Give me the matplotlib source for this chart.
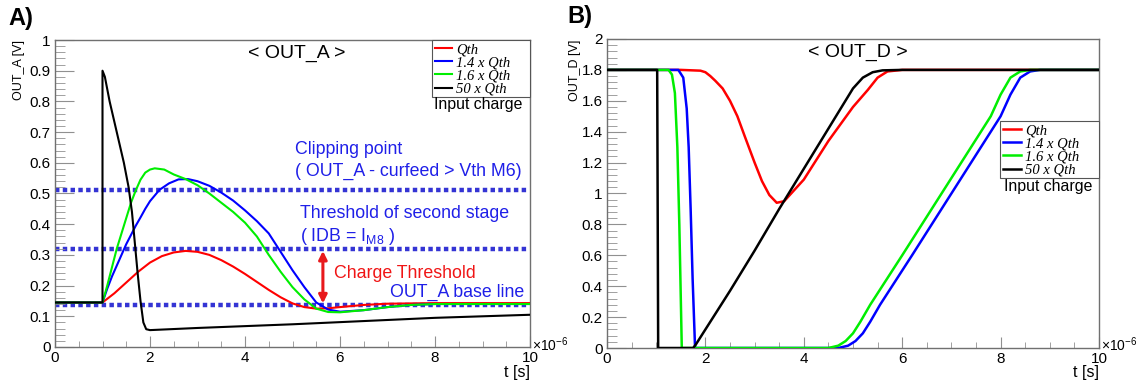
import numpy as np
import matplotlib
matplotlib.use("Agg")
import matplotlib.pyplot as plt
from matplotlib.font_manager import FontProperties
from matplotlib.patches import Rectangle
from matplotlib.ticker import MultipleLocator, FuncFormatter

plt.rcParams['font.family'] = ['Liberation Sans', 'DejaVu Sans']
plt.rcParams['mathtext.default'] = 'regular'

W, H = 1140, 382

labels = ["Qth", "1.4 x Qth", "1.6 x Qth", "50 x Qth"]
colors = ["#ff0000", "#0000ff", "#00ee00", "#000000"]

# ---- panel A: OUT_A [V] vs t [us]
a_red_t = [0, 1.0, 1.25, 1.5, 1.75, 2.0, 2.25, 2.5, 2.75, 3.0, 3.25, 3.5, 3.75, 4.0, 4.25,
           4.5, 4.75, 5.0, 5.25, 5.5, 5.75, 6.0, 6.5, 7.0, 8.0, 10]
a_red_v = [0.145, 0.145, 0.175, 0.21, 0.245, 0.275, 0.296, 0.308, 0.313, 0.31, 0.3, 0.283,
           0.262, 0.238, 0.212, 0.186, 0.162, 0.142, 0.13, 0.125, 0.126, 0.13, 0.137, 0.141,
           0.143, 0.143]

a_blue_t = [0, 1.0, 1.1, 1.2, 1.3, 1.4, 1.5, 1.6, 1.7, 1.8, 1.9, 2.0, 2.2, 2.4, 2.6, 2.8,
            3.0, 3.25, 3.5, 3.75, 4.0, 4.25, 4.5, 4.75, 5.0, 5.25, 5.5, 5.75, 6.0, 6.5, 7.0,
            7.5, 8.0, 10]
a_blue_v = [0.145, 0.145, 0.19, 0.23, 0.265, 0.3, 0.335, 0.365, 0.395, 0.422, 0.45, 0.475,
            0.512, 0.533, 0.546, 0.547, 0.54, 0.525, 0.503, 0.477, 0.445, 0.41, 0.37, 0.31,
            0.25, 0.195, 0.145, 0.122, 0.115, 0.12, 0.13, 0.137, 0.14, 0.14]

a_green_t = [0, 1.0, 1.1, 1.2, 1.3, 1.4, 1.5, 1.6, 1.7, 1.8, 1.9, 2.0, 2.1, 2.3, 2.5, 2.75,
             3.0, 3.25, 3.5, 3.75, 4.0, 4.25, 4.5, 4.75, 5.0, 5.25, 5.5, 5.75, 6.0, 6.5,
             7.0, 7.5, 8.0, 10]
a_green_v = [0.145, 0.145, 0.2, 0.26, 0.32, 0.37, 0.42, 0.47, 0.51, 0.545, 0.568, 0.578,
             0.582, 0.578, 0.562, 0.547, 0.527, 0.5, 0.47, 0.44, 0.405, 0.36, 0.3, 0.245,
             0.195, 0.155, 0.125, 0.114, 0.113, 0.12, 0.13, 0.137, 0.14, 0.14]

a_black_t = [0, 1.0, 1.0, 1.05, 1.15, 1.3, 1.45, 1.55, 1.62, 1.68, 1.74, 1.8, 1.86, 1.92,
             2.0, 3, 4, 5, 6, 7, 8, 9, 10]
a_black_v = [0.145, 0.145, 0.9, 0.88, 0.8, 0.7, 0.6, 0.52, 0.44, 0.34, 0.24, 0.15, 0.08,
             0.058, 0.055, 0.062, 0.068, 0.074, 0.081, 0.088, 0.095, 0.1, 0.105]

a_levels = [0.513, 0.318, 0.137]

# ---- panel B: OUT_D [V] vs t [us]
b_red_t = [0, 1.5, 1.9, 2.0, 2.1, 2.2, 2.35, 2.5, 2.65, 2.8, 3.0, 3.15, 3.3, 3.45, 3.6,
           3.8, 4.0, 4.5, 5.0, 5.3, 5.5, 5.7, 6.0, 10]
b_red_v = [1.8, 1.8, 1.795, 1.785, 1.76, 1.73, 1.68, 1.6, 1.5, 1.37, 1.2, 1.08, 0.99, 0.94,
           0.95, 1.02, 1.09, 1.34, 1.56, 1.67, 1.75, 1.79, 1.8, 1.8]

b_blue_t = [0, 1.45, 1.55, 1.62, 1.66, 1.7, 1.74, 1.79, 4.7, 4.9, 5.05, 5.2, 5.35, 5.55,
            6.2, 7.2, 8.0, 8.2, 8.4, 8.6, 8.8, 10]
b_blue_v = [1.8, 1.8, 1.75, 1.55, 1.3, 0.9, 0.45, 0.0, 0.0, 0.015, 0.045, 0.095, 0.17, 0.28,
            0.6, 1.1, 1.5, 1.64, 1.75, 1.79, 1.8, 1.8]

b_green_t = [0, 1.25, 1.32, 1.38, 1.43, 1.47, 1.52, 4.5, 4.7, 4.85, 5.0, 5.15, 5.35, 6.0,
             7.0, 7.8, 8.0, 8.2, 8.4, 8.6, 10]
b_green_v = [1.8, 1.8, 1.77, 1.65, 1.3, 0.8, 0.0, 0.0, 0.015, 0.045, 0.095, 0.17, 0.28, 0.6,
             1.1, 1.5, 1.64, 1.75, 1.79, 1.8, 1.8]

b_black_t = [0, 1.02, 1.04, 1.75, 1.8, 2.5, 3.0, 3.5, 4.0, 4.5, 5.0, 5.2, 5.4, 5.6, 6.0, 10]
b_black_v = [1.8, 1.8, 0.0, 0.0, 0.02, 0.37, 0.63, 0.9, 1.16, 1.42, 1.68, 1.75, 1.785,
             1.797, 1.8, 1.8]


def style_axes(ax, ymax, ymajor, yminor):
    ax.set_xlim(0, 10)
    ax.set_ylim(0, ymax)
    for s in ax.spines.values():
        s.set_color("#707070")
        s.set_linewidth(1.0)
    ax.xaxis.set_major_locator(MultipleLocator(2))
    ax.xaxis.set_minor_locator(MultipleLocator(0.5))
    ax.yaxis.set_major_locator(MultipleLocator(ymajor))
    ax.yaxis.set_minor_locator(MultipleLocator(yminor))
    fmt = FuncFormatter(lambda v, p: f"{v:g}")
    ax.xaxis.set_major_formatter(fmt)
    ax.yaxis.set_major_formatter(fmt)
    ax.tick_params(axis="both", which="both", direction="in", colors="#909090",
                   labelcolor="black", labelsize=11, top=False, right=False)
    ax.tick_params(axis="x", which="major", length=8, pad=3)
    ax.tick_params(axis="x", which="minor", length=4)
    ax.tick_params(axis="y", which="major", length=14, pad=3)
    ax.tick_params(axis="y", which="minor", length=7)


def fig_text(x, y, s, **kw):
    fig.text(x / W, 1 - y / H, s, **kw)


def legend_box(ax, handles, x0, y0, y1):
    ax.add_patch(Rectangle((x0, y0), 1.0 - x0, y1 - y0, transform=ax.transAxes,
                           facecolor="white", edgecolor="#555555", linewidth=0.8,
                           zorder=5, clip_on=False))
    leg = ax.legend(handles, labels, loc="upper left", bbox_to_anchor=(x0, y1),
                    prop=FontProperties(family="Liberation Serif", style="italic", size=10.5),
                    frameon=False, borderpad=0.1, labelspacing=0.0, handlelength=1.2,
                    handletextpad=0.3, borderaxespad=0.1)
    leg.set_zorder(6)


fig = plt.figure(figsize=(W / 100, H / 100), dpi=100)
axA = fig.add_axes([55 / W, 1 - 347 / H, 475 / W, 307 / H])
axB = fig.add_axes([607 / W, 1 - 348 / H, 492 / W, 309 / H])

style_axes(axA, 1.0, 0.1, 0.02)
style_axes(axB, 2.0, 0.2, 0.04)

dot_col = "#3434d4"
for lv in a_levels:
    axA.hlines(lv, 0, 9.95, colors=dot_col, linewidth=3.2, linestyles=(0, (1.0, 0.75)), zorder=1)

handlesA = []
for t, v, c in zip([a_red_t, a_blue_t, a_green_t, a_black_t],
                   [a_red_v, a_blue_v, a_green_v, a_black_v], colors):
    ln, = axA.plot(t, v, color=c, linewidth=1.5, zorder=3)
    handlesA.append(ln)

handlesB = []
for t, v, c in zip([b_red_t, b_blue_t, b_green_t, b_black_t],
                   [b_red_v, b_blue_v, b_green_v, b_black_v], colors):
    ln, = axB.plot(t, v, color=c, linewidth=1.8, zorder=3)
    handlesB.append(ln)

legend_box(axA, handlesA, 0.793, 0.815, 1.0)
legend_box(axB, handlesB, 0.799, 0.55, 0.735)

# red double arrow between threshold and base line
axA.annotate("", xy=(5.64, a_levels[2] + 0.005), xytext=(5.64, a_levels[1] - 0.005),
             arrowprops=dict(arrowstyle="<|-|>", color="#e8191c", lw=2.2, mutation_scale=12,
                             shrinkA=0, shrinkB=0), zorder=4)

blue_txt = "#1f1fe8"
fig_text(297, 53, "< OUT_A >", fontsize=14, ha="center", va="center")
fig_text(858, 52, "< OUT_D >", fontsize=14, ha="center", va="center")
fig_text(295, 150, "Clipping point", fontsize=12.8, color=blue_txt, va="center")
fig_text(295, 171, "( OUT_A - curfeed > Vth M6)", fontsize=12.8, color=blue_txt, va="center")
fig_text(300, 214, "Threshold of second stage", fontsize=12.8, color=blue_txt, va="center")
fig_text(300, 237, "( IDB = I$_{M8}$ )", fontsize=12.8, color=blue_txt, va="center")
fig_text(334, 273, "Charge Threshold", fontsize=12.8, color="#f01515", va="center")
fig_text(390, 292, "OUT_A base line", fontsize=12.8, color=blue_txt, va="center")

fig_text(434, 105, "Input charge", fontsize=11.4, va="center")
fig_text(1004, 186, "Input charge", fontsize=11.4, va="center")

fig_text(19, 40, "OUT_A [V]", fontsize=9, rotation=90, ha="center", va="top")
fig_text(575, 40, "OUT_D [V]", fontsize=9, rotation=90, ha="center", va="top")
fig_text(530, 372, "t [s]", fontsize=11.5, ha="right", va="center")
fig_text(1099, 372, "t [s]", fontsize=11.5, ha="right", va="center")
fig_text(532, 345, r"$\times$10$^{-6}$", fontsize=10, va="center")
fig_text(1101, 345, r"$\times$10$^{-6}$", fontsize=10, va="center")

fig_text(8, 18, "A)", fontsize=17, fontweight="bold", va="center")
fig_text(567, 16, "B)", fontsize=17, fontweight="bold", va="center")

fig.savefig("out.png", dpi=100)
